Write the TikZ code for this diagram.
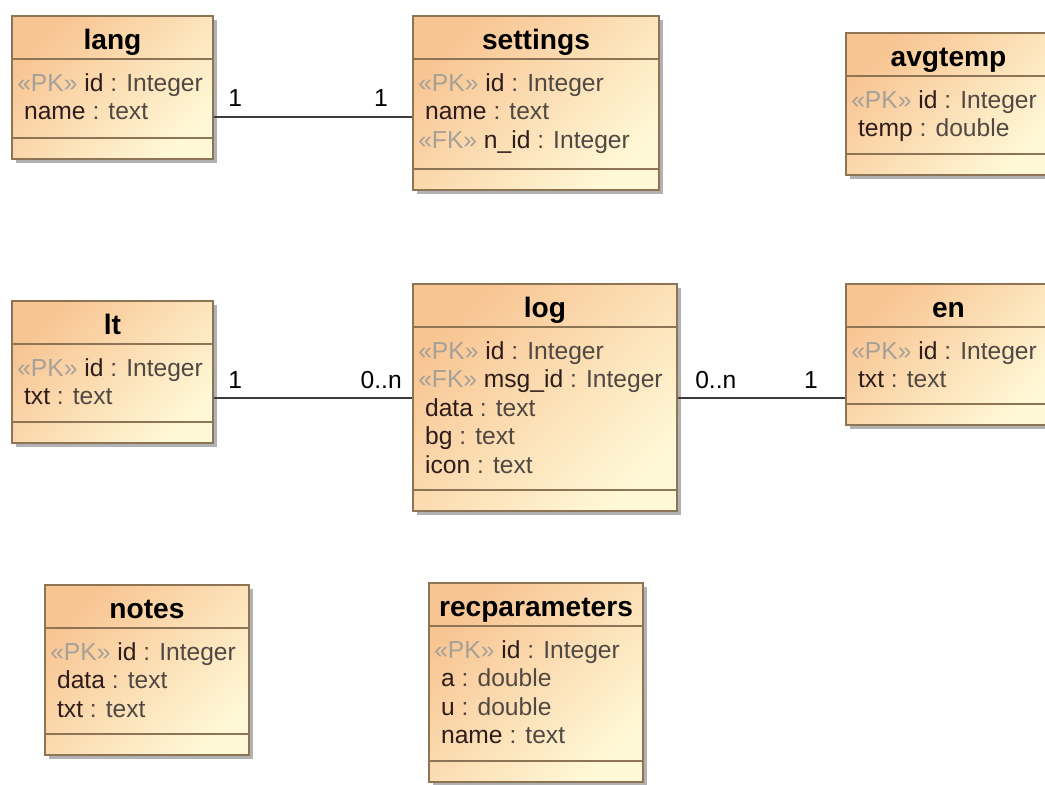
\documentclass[tikz,border=0pt]{standalone}
\usepackage{fontspec}
\setmainfont{Liberation Sans}
\usetikzlibrary{shadows}

\definecolor{boxorange}{RGB}{248,196,146}
\definecolor{boxcream}{RGB}{255,248,214}
\definecolor{boxborder}{RGB}{140,116,84}
\definecolor{stereo}{RGB}{165,160,152}
\definecolor{attrname}{RGB}{45,28,26}
\definecolor{attrtype}{RGB}{80,72,66}
\definecolor{assocline}{RGB}{60,60,60}

% one pixel of the canvas
\newdimen\px \px=0.025cm

\tikzset{
  tablebox/.style={rectangle, draw=boxborder, line width=1pt, inner sep=0pt,
    top color=boxorange, bottom color=boxcream, shading angle=45,
    drop shadow={shadow xshift=0.1cm, shadow yshift=-0.1cm, fill=black, opacity=0.3}},
  sepline/.style={draw=boxborder, line width=1pt},
  titletext/.style={font=\fontsize{20}{22}\selectfont\bfseries, anchor=base, inner sep=0pt},
  rowtext/.style={font=\fontsize{17.5}{20}\selectfont, anchor=base west, inner sep=0pt},
  assoc/.style={draw=assocline, line width=1.1pt},
  multtext/.style={font=\fontsize{17.5}{20}\selectfont, inner sep=0pt},
}

% attribute rows
\newcommand{\pkrow}[2]{{\color{stereo}«PK»} {\color{attrname}#1} {\color{attrtype}: #2}}
\newcommand{\fkrow}[2]{{\color{stereo}«FK»} {\color{attrname}#1} {\color{attrtype}: #2}}
\newcommand{\attrrow}[2]{\ {\color{attrname}#1} {\color{attrtype}: #2}}

% table: name, left, top, width, height, title, rows
\newcommand{\dbtable}[7]{%
  \node[tablebox, minimum width=#4\px, minimum height=#5\px] (#1) at (#2+#4/2, #3+#5/2) {};
  \node[titletext] (#1-title) at (#2+#4/2, #3+33) {#6};
  \draw[sepline] (#2, #3+43) -- (#2+#4, #3+43);
  \draw[sepline] (#2, #3+#5-21) -- (#2+#4, #3+#5-21);
  \foreach \row [count=\i from 0] in {#7}
    \node[rowtext] (#1-row\i) at (#2+5, #3+75+28.5*\i) {\row};
}

\begin{document}
\begin{tikzpicture}[x=0.025cm, y=-0.025cm]
    \path[use as bounding box] (0,0) rectangle (1045,784);
    \clip (0,0) rectangle (1045,784);
    \fill[white] (0,0) rectangle (1045,784);

    % Top row
    \dbtable{lang}{12}{16}{201}{143}{lang}{\pkrow{id}{Integer}, \attrrow{name}{text}}
    \dbtable{settings}{413}{16}{246}{174}{settings}{\pkrow{id}{Integer}, \attrrow{name}{text}, \fkrow{n\_id}{Integer}}
    \dbtable{avgtemp}{846}{33}{205}{142}{avgtemp}{\pkrow{id}{Integer}, \attrrow{temp}{double}}

    % Middle row
    \dbtable{lt}{12}{301}{201}{142}{lt}{\pkrow{id}{Integer}, \attrrow{txt}{text}}
    \dbtable{log}{413}{284}{264}{227}{log}{\pkrow{id}{Integer}, \fkrow{msg\_id}{Integer}, \attrrow{data}{text}, \attrrow{bg}{text}, \attrrow{icon}{text}}
    \dbtable{en}{846}{284}{205}{141}{en}{\pkrow{id}{Integer}, \attrrow{txt}{text}}

    % Bottom row
    \dbtable{notes}{45}{585}{204}{170}{notes}{\pkrow{id}{Integer}, \attrrow{data}{text}, \attrrow{txt}{text}}
    \dbtable{recparameters}{429}{583}{214}{199}{recparameters}{\pkrow{id}{Integer}, \attrrow{a}{double}, \attrrow{u}{double}, \attrrow{name}{text}}

    % Associations
    \draw[assoc] (lang.east |- 0,117) -- (settings.west |- 0,117);
    \node[multtext, anchor=base west] (lang-m) at (228,106) {1};
    \node[multtext, anchor=base east] (settings-m) at (388,106) {1};

    \draw[assoc] (lt.east |- 0,398) -- (log.west |- 0,398);
    \node[multtext, anchor=base west] (lt-m) at (228,388) {1};
    \node[multtext, anchor=base east] (log-lt-m) at (402,388) {0..n};

    \draw[assoc] (log.east |- 0,398) -- (en.west |- 0,398);
    \node[multtext, anchor=base west] (log-en-m) at (695,388) {0..n};
    \node[multtext, anchor=base east] (en-m) at (818,388) {1};
\end{tikzpicture}
\end{document}
